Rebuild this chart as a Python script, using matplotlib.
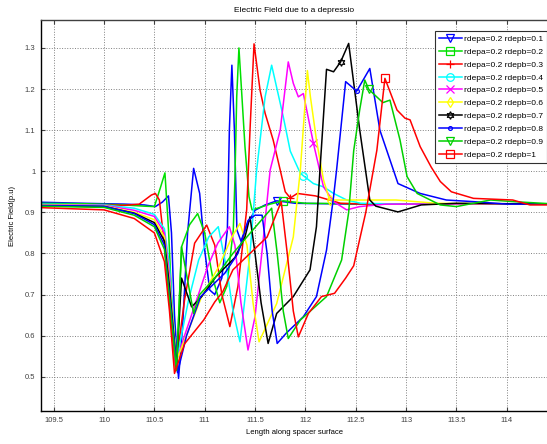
import numpy as np
import matplotlib
matplotlib.use('Agg')
from matplotlib import pyplot as plt

plt.rcParams['font.family'] = ['Liberation Sans', 'DejaVu Sans']

# Electric field along spacer surface, rdepa = 0.2, rdepb = 0.1 ... 1
labels = ['rdepa=0.2 rdepb=0.1', 'rdepa=0.2 rdepb=0.2', 'rdepa=0.2 rdepb=0.3',
          'rdepa=0.2 rdepb=0.4', 'rdepa=0.2 rdepb=0.5', 'rdepa=0.2 rdepb=0.6',
          'rdepa=0.2 rdepb=0.7', 'rdepa=0.2 rdepb=0.8', 'rdepa=0.2 rdepb=0.9',
          'rdepa=0.2 rdepb=1']

x_01 = [109.3, 109.8, 110.2, 110.4, 110.51, 110.58, 110.64, 110.67, 110.70, 110.74, 110.78, 110.83,
        110.89, 110.95, 111.0, 111.05, 111.1, 111.17, 111.225, 111.245, 111.27, 111.295, 111.32,
        111.36, 111.42, 111.5, 111.6, 111.715, 111.9, 112.5, 113.5, 114.5]
y_01 = [0.925, 0.922, 0.92, 0.918, 0.914, 0.925, 0.94, 0.85, 0.65, 0.496, 0.62, 0.85,
        1.007, 0.946, 0.808, 0.711, 0.70, 0.74, 0.857, 1.1, 1.258, 1.1, 0.857,
        0.83, 0.87, 0.905, 0.918, 0.928, 0.922, 0.92, 0.92, 0.92]

x_02 = [109.3, 109.8, 110.2, 110.4, 110.5, 110.56, 110.605, 110.64, 110.67, 110.72, 110.77, 110.85,
        110.93, 111.0, 111.08, 111.15, 111.22, 111.284, 111.30, 111.318, 111.34, 111.37, 111.40,
        111.44, 111.47, 111.55, 111.65, 111.78, 112.0, 113.0, 114.5]
y_02 = [0.922, 0.921, 0.918, 0.915, 0.914, 0.96, 0.996, 0.86, 0.70, 0.52, 0.816, 0.87,
        0.897, 0.85, 0.74, 0.68, 0.72, 0.857, 0.979, 1.181, 1.30, 1.181, 1.06,
        0.938, 0.906, 0.912, 0.92, 0.928, 0.922, 0.92, 0.92]

x_03 = [109.3, 109.8, 110.2, 110.35, 110.47, 110.51, 110.55, 110.6, 110.65, 110.71, 110.80, 110.90,
        111.02, 111.10, 111.17, 111.25, 111.33, 111.417, 111.45, 111.49, 111.55, 111.60, 111.68,
        111.75, 111.80, 111.85, 111.92, 112.1, 112.35, 112.6, 114.5]
y_03 = [0.918, 0.918, 0.917, 0.92, 0.942, 0.946, 0.93, 0.82, 0.68, 0.52, 0.687, 0.825,
        0.869, 0.82, 0.70, 0.622, 0.72, 0.906, 1.1, 1.31, 1.197, 1.141, 1.076,
        1.003, 0.95, 0.935, 0.946, 0.94, 0.922, 0.92, 0.92]

x_04 = [109.3, 110.0, 110.3, 110.5, 110.6, 110.65, 110.715, 110.84, 110.94, 111.04, 111.135, 111.22,
        111.28, 111.35, 111.383, 111.45, 111.516, 111.60, 111.665, 111.78, 111.85, 111.95, 111.98,
        112.08, 112.18, 112.28, 112.41, 112.55, 113.0, 114.5]
y_04 = [0.92, 0.918, 0.91, 0.895, 0.86, 0.77, 0.535, 0.687, 0.784, 0.84, 0.865, 0.76,
        0.662, 0.585, 0.654, 0.80, 1.003, 1.181, 1.258, 1.133, 1.049, 0.995, 0.989,
        0.970, 0.962, 0.946, 0.93, 0.922, 0.92, 0.92]

x_05 = [109.3, 110.0, 110.3, 110.5, 110.6, 110.65, 110.71, 110.80, 110.92, 111.03, 111.13, 111.245,
        111.30, 111.36, 111.43, 111.50, 111.58, 111.65, 111.75, 111.83, 111.88, 111.93, 111.98,
        112.08, 112.18, 112.28, 112.41, 112.54, 112.8, 114.5]
y_05 = [0.919, 0.917, 0.905, 0.89, 0.85, 0.75, 0.53, 0.60, 0.687, 0.768, 0.825, 0.865,
        0.82, 0.68, 0.565, 0.646, 0.83, 1.003, 1.1, 1.266, 1.214, 1.181, 1.189,
        1.068, 0.962, 0.926, 0.906, 0.914, 0.92, 0.92]

x_06 = [109.3, 110.0, 110.3, 110.5, 110.6, 110.65, 110.72, 110.85, 110.97, 111.14, 111.27, 111.35,
        111.42, 111.48, 111.54, 111.715, 111.88, 111.95, 112.02, 112.05, 112.11, 112.18, 112.24,
        112.5, 112.9, 113.3, 114.5]
y_06 = [0.918, 0.916, 0.90, 0.882, 0.84, 0.73, 0.54, 0.62, 0.695, 0.768, 0.84, 0.873,
        0.82, 0.68, 0.585, 0.678, 0.84, 1.003, 1.245, 1.181, 1.076, 0.979, 0.93,
        0.93, 0.93, 0.922, 0.92]

x_07 = [109.3, 110.0, 110.3, 110.5, 110.6, 110.65, 110.72, 110.77, 110.87, 110.97, 111.11, 111.30,
        111.40, 111.45, 111.50, 111.56, 111.63, 111.715, 111.88, 112.046, 112.11, 112.145, 112.21,
        112.28, 112.35, 112.43, 112.54, 112.64, 112.7, 112.92, 113.15, 113.5, 114.5]
y_07 = [0.916, 0.914, 0.898, 0.875, 0.83, 0.72, 0.525, 0.74, 0.67, 0.695, 0.743, 0.79,
        0.84, 0.889, 0.80, 0.68, 0.581, 0.654, 0.695, 0.76, 0.865, 1.003, 1.248,
        1.242, 1.266, 1.311, 1.1, 0.93, 0.915, 0.901, 0.918, 0.922, 0.92]

x_08 = [109.3, 110.0, 110.3, 110.5, 110.6, 110.65, 110.73, 110.82, 110.96, 111.2, 111.33, 111.43,
        111.50, 111.57, 111.62, 111.67, 111.72, 111.81, 111.98, 112.11, 112.21, 112.28, 112.31,
        112.40, 112.51, 112.64, 112.74, 112.92, 113.14, 113.4, 113.67, 114.0, 114.5]
y_08 = [0.917, 0.915, 0.897, 0.87, 0.82, 0.70, 0.51, 0.60, 0.695, 0.752, 0.80, 0.88,
        0.893, 0.893, 0.80, 0.66, 0.581, 0.606, 0.646, 0.695, 0.808, 0.938, 1.003,
        1.218, 1.195, 1.25, 1.1, 0.97, 0.946, 0.93, 0.926, 0.92, 0.92]

x_09 = [109.3, 110.0, 110.3, 110.5, 110.6, 110.65, 110.72, 110.77, 110.89, 110.95, 111.1, 111.28,
        111.45, 111.665, 111.72, 111.78, 111.83, 111.95, 112.21, 112.36, 112.43, 112.48, 112.54,
        112.59, 112.63, 112.77, 112.84, 112.94, 113.01, 113.11, 113.34, 113.5, 113.84, 114.07, 114.5]
y_09 = [0.915, 0.912, 0.893, 0.865, 0.81, 0.69, 0.515, 0.816, 0.654, 0.70, 0.74, 0.80,
        0.849, 0.91, 0.80, 0.66, 0.593, 0.638, 0.695, 0.784, 0.90, 1.05, 1.15,
        1.222, 1.199, 1.167, 1.173, 1.076, 0.987, 0.946, 0.918, 0.914, 0.93, 0.926, 0.92]

x_10 = [109.3, 110.0, 110.3, 110.5, 110.6, 110.65, 110.70, 110.80, 110.99, 111.10, 111.18, 111.28,
        111.45, 111.62, 111.76, 111.82, 111.88, 111.93, 112.03, 112.16, 112.29, 112.40, 112.48,
        112.60, 112.71, 112.79, 112.91, 112.99, 113.04, 113.14, 113.25, 113.34, 113.45, 113.67,
        114.06, 114.23, 114.5]
y_10 = [0.912, 0.906, 0.885, 0.85, 0.78, 0.66, 0.508, 0.58, 0.638, 0.682, 0.707, 0.76,
        0.80, 0.84, 0.926, 0.80, 0.66, 0.597, 0.654, 0.695, 0.703, 0.74, 0.77,
        0.90, 1.051, 1.226, 1.149, 1.129, 1.125, 1.06, 1.01, 0.975, 0.95, 0.934,
        0.93, 0.918, 0.918]

xs = [x_01, x_02, x_03, x_04, x_05, x_06, x_07, x_08, x_09, x_10]
ys = [y_01, y_02, y_03, y_04, y_05, y_06, y_07, y_08, y_09, y_10]
# where the single marker of each curve sits
marker_x = [111.715, 111.78, 111.85, 111.98, 112.08, 112.24, 112.35, 112.51, 112.63, 112.79]

colors = ['#0000ff', '#00e000', '#ff0000', '#00ffff', '#ff00ff', '#ffff00',
          '#000000', '#0000ff', '#00d000', '#ff0000']
markers = ['v', 's', '+', 'o', 'x', 'd', (6, 1, 0), '.', 'v', 's']

fig = plt.figure(figsize=(5.47, 4.44), dpi=100)
ax = fig.add_axes([41 / 547, 33 / 444, 506 / 547, 391 / 444])

for i in range(10):
    idx = int(np.argmin(np.abs(np.array(xs[i]) - marker_x[i])))
    ax.plot(xs[i], ys[i], color=colors[i], lw=1.1, marker=markers[i],
            markevery=[idx], ms=5.5, mfc='none', mew=0.9, label=labels[i])

ax.set_xlim(109.374, 114.40)
ax.set_ylim(0.4166, 1.368)
ax.set_xticks([109.5, 110, 110.5, 111, 111.5, 112, 112.5, 113, 113.5, 114])
ax.set_xticklabels(['109.5', '110', '110.5', '111', '111.5', '112', '112.5', '113', '113.5', '114'])
ax.set_yticks([0.5, 0.6, 0.7, 0.8, 0.9, 1.0, 1.1, 1.2, 1.3])
ax.set_yticklabels(['0.5', '0.6', '0.7', '0.8', '0.9', '1', '1.1', '1.2', '1.3'])
ax.grid(True, ls=':', color='#808080', lw=0.7)
ax.tick_params(direction='in', top=True, right=False, labelsize=5.5, length=3, pad=4, colors='#404040')
ax.spines['right'].set_visible(False)
for s in ['left', 'bottom', 'top']:
    ax.spines[s].set_linewidth(1.0)
ax.spines['top'].set_color('#404040')

ax.set_title('Electric Field due to a depressio', fontsize=6, pad=6)
ax.set_xlabel('Length along spacer surface', fontsize=5.5, labelpad=4)
ax.set_ylabel('Electric Field(p.u)', fontsize=5.5, labelpad=6)

leg = ax.legend(loc='upper left', bbox_to_anchor=(435 / 547, 1 - 31 / 444),
                bbox_transform=fig.transFigure, fontsize=6, labelspacing=0.6,
                handlelength=2.7, handletextpad=0.3, borderaxespad=0, borderpad=0.5,
                fancybox=False, framealpha=1, edgecolor='#303030')
leg.get_frame().set_linewidth(0.8)

fig.savefig('out.png', dpi=100)
